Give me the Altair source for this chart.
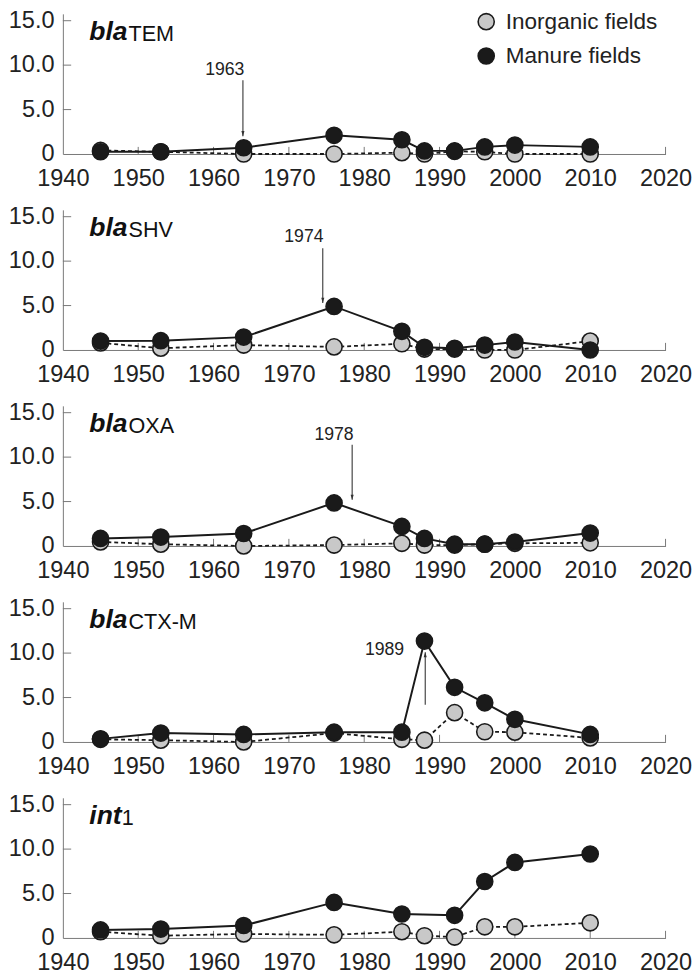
import altair as alt
import pandas as pd

# ---------------- data ----------------
years = [1945, 1953, 1964, 1976, 1985, 1988, 1992, 1996, 2000, 2010]

gene_bold = ["bla", "bla", "bla", "bla", "int"]
gene_sub = ["TEM", "SHV", "OXA", "CTX-M", "1"]

manure = [
    [0.25, 0.25, 0.7, 2.1, 1.6, 0.35, 0.35, 0.8, 1.0, 0.8],      # blaTEM
    [1.0, 1.05, 1.45, 4.9, 2.1, 0.3, 0.2, 0.55, 0.9, 0.0],       # blaSHV
    [0.85, 1.0, 1.4, 4.85, 2.2, 0.85, 0.2, 0.2, 0.45, 1.45],     # blaOXA
    [0.35, 1.0, 0.85, 1.1, 1.1, 11.35, 6.15, 4.4, 2.55, 0.85],   # blaCTX-M
    [0.9, 1.0, 1.4, 4.0, 2.7, None, 2.55, 6.35, 8.5, 9.45],      # int1
]
inorganic = [
    [0.4, 0.25, 0.0, 0.0, 0.15, 0.0, 0.3, 0.25, 0.0, 0.0],
    [0.8, 0.2, 0.55, 0.35, 0.7, 0.1, 0.1, 0.0, 0.0, 1.0],
    [0.45, 0.2, 0.0, 0.1, 0.3, 0.1, 0.1, 0.2, 0.3, 0.35],
    [0.3, 0.2, 0.0, 1.0, 0.3, 0.2, 3.3, 1.15, 1.1, 0.45],
    [0.7, 0.25, 0.45, 0.35, 0.7, 0.25, 0.1, 1.25, 1.25, 1.7],
]

legend_labels = ["Inorganic fields", "Manure fields"]

# annotations (arrow year markers)
ann_panel = [0, 1, 2, 3]
ann_label = ["1963", "1974", "1978", "1989"]
ann_x = [1963.9, 1974.5, 1978.4, 1988.1]
ann_text_x = [1964.1, 1974.6, 1978.6, 1985.3]
ann_text_y = [9.4, 12.7, 12.5, 10.3]
ann_y_start = [8.3, 11.45, 11.4, 4.2]
ann_y_tip = [2.0, 5.3, 5.2, 10.1]

x_tick_values = [1940, 1950, 1960, 1970, 1980, 1990, 2000, 2010, 2020]
y_tick_values = [0, 5, 10, 15]

# ---------------- style ----------------
FONT = "Liberation Sans, Arial, sans-serif"
NARROW = "Liberation Sans Narrow, Arial Narrow, Liberation Sans, sans-serif"
W, H = 615, 143
YMAX = 15.77
INK = "#1a1a1a"
GREY_FILL = "#c8c8c8"
AXIS_COL = "#777777"
PT_SIZE = 270

x_scale = alt.Scale(domain=[1940, 2020], nice=False, zero=False)
y_scale = alt.Scale(domain=[0, YMAX], nice=False, zero=False)

x_axis = alt.Axis(values=x_tick_values, format="d", ticks=False, grid=False,
                  labelFontSize=24, labelFont=NARROW, labelColor="#222222",
                  labelPadding=13, domainColor=AXIS_COL, title=None,
                  labelFlush=False, labelOverlap=False)
y_axis = alt.Axis(values=y_tick_values, ticks=False, grid=False,
                  labelExpr="datum.value == 0 ? '0' : format(datum.value, '.1f')",
                  labelFontSize=24, labelFont=NARROW, labelColor="#222222",
                  labelPadding=9, domainColor=AXIS_COL, title=None,
                  minExtent=47, maxExtent=47, labelOverlap=False)


def panel(i):
    rows = []
    for yr, v in zip(years, inorganic[i]):
        if v is not None:
            rows.append({"year": yr, "value": v, "series": "Inorganic fields"})
    for yr, v in zip(years, manure[i]):
        if v is not None:
            rows.append({"year": yr, "value": v, "series": "Manure fields"})
    df = pd.DataFrame(rows)
    df_in = df[df.series == "Inorganic fields"]
    df_ma = df[df.series == "Manure fields"]

    X = alt.X("year:Q", scale=x_scale, axis=x_axis)
    Y = alt.Y("value:Q", scale=y_scale, axis=y_axis)

    line_in = alt.Chart(df_in).mark_line(color=INK, strokeWidth=1.8, strokeDash=[4, 3]).encode(x=X, y=Y)
    line_ma = alt.Chart(df_ma).mark_line(color=INK, strokeWidth=2).encode(x="year:Q", y="value:Q")
    pts_in = alt.Chart(df_in).mark_point(filled=True, fill=GREY_FILL, stroke=INK, strokeWidth=1.6,
                                          size=PT_SIZE, opacity=1, clip=False).encode(x="year:Q", y="value:Q")
    pts_ma = alt.Chart(df_ma).mark_point(filled=True, fill=INK, stroke=INK, strokeWidth=1.6,
                                          size=PT_SIZE, opacity=1, clip=False).encode(x="year:Q", y="value:Q")

    xt = alt.Chart(pd.DataFrame({"t": x_tick_values[1:]})).mark_rule(color=AXIS_COL, strokeWidth=1).encode(
        x="t:Q", y=alt.datum(0), y2=alt.datum(0.8))
    yt = alt.Chart(pd.DataFrame({"v": y_tick_values[1:]})).mark_rule(color=AXIS_COL, strokeWidth=1).encode(
        y="v:Q", x=alt.datum(1940), x2=alt.datum(1941.1))

    t_bold = alt.Chart(pd.DataFrame({"t": [gene_bold[i]]})).mark_text(
        font=FONT, fontSize=27, fontStyle="italic", fontWeight="bold", align="left",
        baseline="alphabetic", color="#111111").encode(text="t:N", x=alt.value(27), y=alt.value(27))
    sub_x = 67 if gene_bold[i] == "bla" else 60
    t_sub = alt.Chart(pd.DataFrame({"t": [gene_sub[i]]})).mark_text(
        font=FONT, fontSize=22, align="left", baseline="alphabetic", color="#111111").encode(
        text="t:N", x=alt.value(sub_x), y=alt.value(28))

    layers = [xt, yt, line_in, line_ma, pts_in, pts_ma, t_bold, t_sub]

    # annotation
    for k, p in enumerate(ann_panel):
        if p != i:
            continue
        adf = pd.DataFrame({"x": [ann_x[k]], "y0": [ann_y_start[k]], "y1": [ann_y_tip[k]],
                            "tx": [ann_text_x[k]], "ty": [ann_text_y[k]], "lab": [ann_label[k]]})
        up = ann_y_tip[k] > ann_y_start[k]
        shape = "M-0.3,1L0.3,1L0,0Z" if up else "M-0.3,-1L0.3,-1L0,0Z"
        layers.append(alt.Chart(adf).mark_rule(color="#333333", strokeWidth=1.1).encode(
            x="x:Q", y="y0:Q", y2="y1:Q"))
        layers.append(alt.Chart(adf).mark_point(shape=shape, filled=True, color="#333333",
                                                 size=110, opacity=1).encode(x="x:Q", y="y1:Q"))
        layers.append(alt.Chart(adf).mark_text(font=NARROW, fontSize=18, align="right",
                                                baseline="middle", color="#222222").encode(
            x="tx:Q", y="ty:Q", text="lab:N"))

    # legend on first panel
    if i == 0:
        fills = [GREY_FILL, INK]
        for j, lab in enumerate(legend_labels):
            ly = 8 + 35 * j
            ldf = pd.DataFrame({"lab": [lab]})
            layers.append(alt.Chart(ldf).mark_point(filled=True, fill=fills[j], stroke=INK,
                                                     strokeWidth=1.6, size=PT_SIZE, opacity=1).encode(
                x=alt.value(432), y=alt.value(ly)))
            layers.append(alt.Chart(ldf).mark_text(font=FONT, fontSize=23, align="left",
                                                    baseline="middle", color="#222222").encode(
                text="lab:N", x=alt.value(452), y=alt.value(ly)))

    return alt.layer(*layers).properties(width=W, height=H)


chart = alt.vconcat(*[panel(i) for i in range(5)], spacing=14).properties(
    padding={"top": -10, "left": 0, "right": 0, "bottom": 0}, background="white"
).configure_view(stroke=None)

chart.save("out.html", embed_options={"renderer": "svg", "actions": False})
